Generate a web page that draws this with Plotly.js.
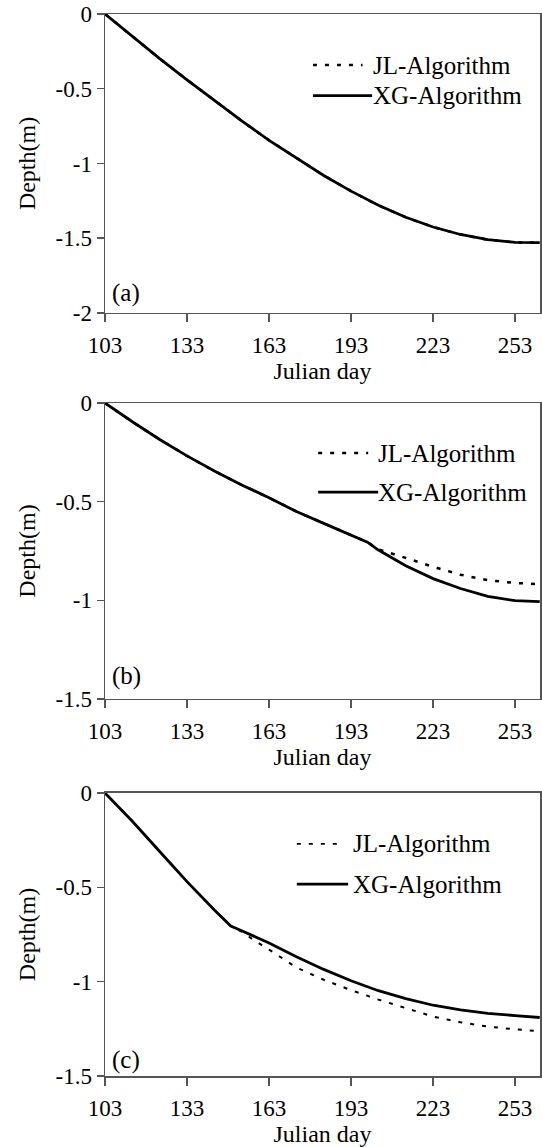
<!DOCTYPE html>
<html><head><meta charset="utf-8">
<script src="https://cdn.plot.ly/plotly-3.0.1.min.js"></script>
<style>html,body{margin:0;padding:0;background:#fff;}#chart{width:542px;height:1147px;}</style>
</head><body><div id="chart"></div>
<script>
// ---- tick labels ----
const dayTicks = [103, 133, 163, 193, 223, 253];
const dayTickText = ['103', '133', '163', '193', '223', '253'];
const depthTicksA = [0, -0.5, -1, -1.5, -2];
const depthTickTextA = ['0', '-0.5', '-1', '-1.5', '-2'];
const depthTicksBC = [0, -0.5, -1, -1.5];
const depthTickTextBC = ['0', '-0.5', '-1', '-1.5'];
const seriesNames = ['JL-Algorithm', 'XG-Algorithm'];
const panelLabels = ['(a)', '(b)', '(c)'];

// ---- panel (a) ----
const daysA = [103, 113, 123, 133, 143, 153, 163, 173, 183, 193, 203, 213, 223, 233, 243, 253, 262];
const xgA = [0, -0.150, -0.298, -0.440, -0.580, -0.715, -0.845, -0.965, -1.080, -1.185, -1.280, -1.360, -1.425, -1.475, -1.510, -1.528, -1.530];
const jlA = [0, -0.150, -0.298, -0.440, -0.580, -0.715, -0.845, -0.965, -1.080, -1.185, -1.280, -1.360, -1.425, -1.475, -1.510, -1.528, -1.530];

// ---- panel (b) ----
const daysBxg = [103, 113, 123, 133, 143, 153, 163, 173, 183, 193, 199, 203, 208, 213, 223, 233, 243, 253, 262];
const xgB = [0, -0.095, -0.185, -0.268, -0.345, -0.415, -0.480, -0.550, -0.610, -0.668, -0.705, -0.745, -0.785, -0.825, -0.890, -0.940, -0.980, -1.002, -1.007];
const daysBjl = [103, 113, 123, 133, 143, 153, 163, 173, 183, 193, 199, 203, 208, 213, 223, 233, 243, 253, 262];
const jlB = [0, -0.095, -0.185, -0.268, -0.345, -0.415, -0.480, -0.550, -0.610, -0.668, -0.705, -0.742, -0.762, -0.785, -0.830, -0.870, -0.898, -0.912, -0.918];

// ---- panel (c) ----
const daysCxg = [103, 113, 123, 133, 143, 149, 153, 163, 173, 183, 193, 203, 213, 223, 233, 243, 253, 262];
const xgC = [0, -0.150, -0.310, -0.470, -0.620, -0.705, -0.730, -0.795, -0.868, -0.935, -0.995, -1.048, -1.090, -1.125, -1.150, -1.168, -1.180, -1.190];
const daysCjl = [103, 113, 123, 133, 143, 149, 153, 158, 163, 173, 183, 193, 203, 213, 223, 233, 243, 253, 262];
const jlC = [0, -0.150, -0.310, -0.470, -0.620, -0.705, -0.735, -0.785, -0.830, -0.925, -0.990, -1.045, -1.095, -1.140, -1.185, -1.215, -1.238, -1.253, -1.262];

const FONT = '"Liberation Serif", "Times New Roman", serif';
const AXC = '#555555';

function xax(anchor) {
  return {
    domain: [0, 1], anchor: anchor, range: [103, 262.1],
    tickmode: 'array', tickvals: dayTicks, ticktext: dayTickText,
    showline: true, mirror: true, linecolor: AXC, linewidth: 1.5,
    ticks: 'outside', ticklen: 8, tickwidth: 1.5, tickcolor: AXC,
    ticklabelstandoff: 3,
    showgrid: false, zeroline: false,
    tickfont: {family: FONT, size: 23, color: '#000'},
    title: {text: 'Julian day', font: {family: FONT, size: 24, color: '#000'}, standoff: 1}
  };
}
function yax(anchor, dom, rng, tv, tt) {
  return {
    domain: dom, anchor: anchor, range: rng,
    tickmode: 'array', tickvals: tv, ticktext: tt,
    showline: true, mirror: true, linecolor: AXC, linewidth: 1.5,
    ticks: 'outside', ticklen: 7, tickwidth: 1.5, tickcolor: AXC,
    showgrid: false, zeroline: false,
    tickfont: {family: FONT, size: 23, color: '#000'},
    title: {text: 'Depth(m)', font: {family: FONT, size: 24, color: '#000'}, standoff: 13}
  };
}

const traces = [
  {x: daysA, y: jlA, xaxis: 'x', yaxis: 'y', name: seriesNames[0], mode: 'lines', line: {color: '#000', width: 2.5, dash: '4px,8px'}, showlegend: false},
  {x: daysA, y: xgA, xaxis: 'x', yaxis: 'y', name: seriesNames[1], mode: 'lines', line: {color: '#000', width: 2.8}, showlegend: false},
  {x: daysBjl, y: jlB, xaxis: 'x2', yaxis: 'y2', name: seriesNames[0], mode: 'lines', line: {color: '#000', width: 2.5, dash: '4px,8px'}, showlegend: false},
  {x: daysBxg, y: xgB, xaxis: 'x2', yaxis: 'y2', name: seriesNames[1], mode: 'lines', line: {color: '#000', width: 2.8}, showlegend: false},
  {x: daysCjl, y: jlC, xaxis: 'x3', yaxis: 'y3', name: seriesNames[0], mode: 'lines', line: {color: '#000', width: 2, dash: '4px,8px'}, showlegend: false},
  {x: daysCxg, y: xgC, xaxis: 'x3', yaxis: 'y3', name: seriesNames[1], mode: 'lines', line: {color: '#000', width: 2.8}, showlegend: false}
];

// legend geometry per panel (axis-domain fractions)
const legendGeo = [
  {xr: 'x domain', yr: 'y domain', x0: 0.478, x1jl: 0.592, x1xg: 0.614, tx: 0.611, yjl: 0.829, yxg: 0.727, jw: 2.5},
  {xr: 'x2 domain', yr: 'y2 domain', x0: 0.490, x1jl: 0.605, x1xg: 0.628, tx: 0.622, yjl: 0.831, yxg: 0.699, jw: 2.5},
  {xr: 'x3 domain', yr: 'y3 domain', x0: 0.441, x1jl: 0.535, x1xg: 0.559, tx: 0.565, yjl: 0.820, yxg: 0.678, jw: 1.8}
];
const panelLabelY = [0.067, 0.078, 0.055];

const shapes = [];
const annotations = [];
legendGeo.forEach((g, i) => {
  shapes.push({type: 'line', xref: g.xr, yref: g.yr, x0: g.x0, x1: g.x1jl, y0: g.yjl, y1: g.yjl, line: {color: '#000', width: g.jw, dash: '4px,8px'}});
  shapes.push({type: 'line', xref: g.xr, yref: g.yr, x0: g.x0, x1: g.x1xg, y0: g.yxg, y1: g.yxg, line: {color: '#000', width: 2.8}});
  annotations.push({xref: g.xr, yref: g.yr, x: g.tx, y: g.yjl, text: seriesNames[0], showarrow: false, xanchor: 'left', yanchor: 'middle', font: {family: FONT, size: 25, color: '#000'}});
  annotations.push({xref: g.xr, yref: g.yr, x: g.tx, y: g.yxg, text: seriesNames[1], showarrow: false, xanchor: 'left', yanchor: 'middle', font: {family: FONT, size: 25, color: '#000'}});
  annotations.push({xref: g.xr, yref: g.yr, x: 0.012, y: panelLabelY[i], text: panelLabels[i], showarrow: false, xanchor: 'left', yanchor: 'middle', font: {family: FONT, size: 25, color: '#000'}});
});

const layout = {
  width: 542, height: 1147,
  margin: {l: 105, r: 2, t: 14, b: 71},
  paper_bgcolor: '#fff', plot_bgcolor: '#fff',
  showlegend: false,
  xaxis: xax('y'), xaxis2: xax('y2'), xaxis3: xax('y3'),
  yaxis: yax('x', [0.7185, 1.0], [-2, 0], depthTicksA, depthTickTextA),
  yaxis2: yax('x2', [0.3550, 0.6337], [-1.5, 0], depthTicksBC, depthTickTextBC),
  yaxis3: yax('x3', [0, 0.2665], [-1.5, 0], depthTicksBC, depthTickTextBC),
  shapes: shapes, annotations: annotations
};

Plotly.newPlot('chart', traces, layout, {staticPlot: true, displayModeBar: false});
</script></body></html>
